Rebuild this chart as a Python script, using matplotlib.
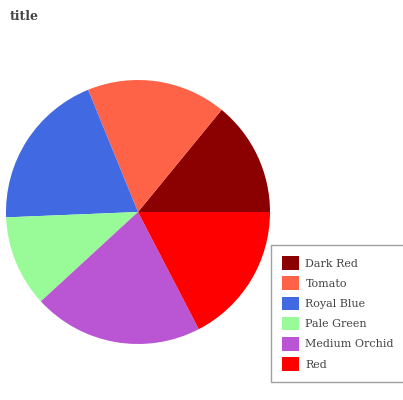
import matplotlib.pyplot as plt
from matplotlib.patches import Patch

labels = ['Dark Red', 'Tomato', 'Royal Blue', 'Pale Green', 'Medium Orchid', 'Red']
values = [14.1, 17.1, 19.5, 11.2, 20.8, 17.4]
colors = ['#8b0000', '#ff6347', '#4169e1', '#98fb98', '#ba55d3', '#ff0000']

plt.rcParams['font.family'] = 'DejaVu Serif'

fig = plt.figure(figsize=(4.03, 4.00), dpi=100)
ax = fig.add_axes([6 / 403, 56 / 400, 264 / 403, 264 / 400])
ax.pie(values, colors=colors, startangle=0, counterclock=True,
       wedgeprops={'linewidth': 0})
ax.set_xlim(-1, 1)
ax.set_ylim(-1, 1)
ax.set_aspect('equal')
ax.axis('off')

fig.text(10 / 403, 1 - 17 / 400, 'title', fontsize=9, fontweight='bold',
         color='#444444', va='center', ha='left')

handles = [Patch(facecolor=c, edgecolor='none') for c in colors]
leg = fig.legend(handles, labels, loc='upper left',
                 bbox_to_anchor=(271 / 403, 1 - 245 / 400),
                 fontsize=8, frameon=True, fancybox=False,
                 handlelength=1.5, handleheight=1.5, labelspacing=0.6,
                 borderpad=1.0, handletextpad=0.6, borderaxespad=0)
leg.get_frame().set_edgecolor('#888888')
leg.get_frame().set_linewidth(1.0)
for t in leg.get_texts():
    t.set_color('#444444')

fig.savefig('out.png', dpi=100)
